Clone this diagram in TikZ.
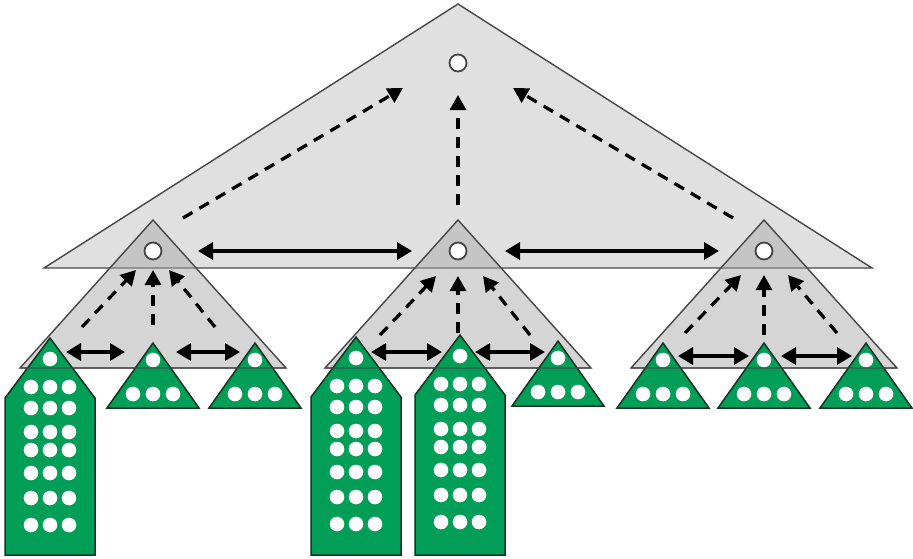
\documentclass[tikz,border=0pt]{standalone}
\usetikzlibrary{arrows.meta}

\definecolor{leafgreen}{RGB}{0,158,86}
\definecolor{leafline}{RGB}{22,52,36}
\definecolor{treegray}{RGB}{224,224,224}
\definecolor{subgray}{RGB}{168,168,168}
\definecolor{treeline}{RGB}{70,70,70}

\tikzset{
  bigtri/.style={fill=treegray, draw=treeline, line width=1.4pt, line join=miter},
  subtri/.style={fill=subgray, fill opacity=0.48, draw=treeline, line width=1.4pt},
  baseline over/.style={draw=treeline, line width=1.4pt, draw opacity=0.55},
  leafshape/.style={fill=leafgreen, draw=leafline, line width=1.5pt, line join=miter},
  keynode/.style={circle, fill=white, draw=treeline, line width=1.8pt, inner sep=0pt, minimum size=17pt},
  uparrow/.style={line width=3.3pt, dash pattern=on 11pt off 8pt,
    -{Triangle[length=15pt,width=16pt]}},
  linkarrow/.style={line width=3.4pt,
    {Triangle[length=15pt,width=17pt]}-{Triangle[length=15pt,width=17pt]}},
}

% small leaf triangle: #1 = centre x, #2 = apex y
\newcommand\smallleaf[2]{%
  \draw[leafshape] (#1,#2) -- (#1+46,#2+65) -- (#1-46,#2+65) -- cycle;
  \fill[white] (#1,#2+17) circle (7.3);
  \foreach \dx in {-20,0,20} {\fill[white] (#1+\dx,#2+51) circle (7.3);}
}
% tall leaf (house shape): #1 = centre x, #2 = apex y
\newcommand\tallleaf[2]{%
  \draw[leafshape] (#1,#2) -- (#1+45,#2+60) -- (#1+45,555) -- (#1-45,555)
    -- (#1-45,#2+60) -- cycle;
  \fill[white] (#1,#2+21) circle (7.3);
  \foreach \dy in {49,70,94,112,135,160,187}
    \foreach \dx in {-19,0,19} {\fill[white] (#1+\dx,#2+\dy) circle (7.3);}
}

\begin{document}
\begin{tikzpicture}[x=1pt,y=-1pt]
\useasboundingbox (0,0) rectangle (913,558);

% top-level tree
\draw[bigtri] (458,4) -- (872,268) -- (44,268) -- cycle;

% second-level trees
\foreach \cx in {153,458,764}
  \draw[subtri] (\cx,220) -- (\cx+133,368) -- (\cx-133,368) -- cycle;

% leaves
\tallleaf{50}{338}
\smallleaf{153}{343}
\smallleaf{255}{343}
\tallleaf{356}{337}
\tallleaf{460}{335}
\smallleaf{558}{341}
\smallleaf{663}{343}
\smallleaf{764}{343}
\smallleaf{866}{343}

% base lines of the second-level trees, seen through the leaves
\foreach \cx in {153,458,764}
  \draw[baseline over] (\cx-133,368) -- (\cx+133,368);

% key nodes
\node[keynode] (root) at (458,63) {};
\node[keynode] (mid1) at (153,251) {};
\node[keynode] (mid2) at (458,251) {};
\node[keynode] (mid3) at (764,251) {};

% arrow end points, top level
\coordinate (rootL) at (403,88);
\coordinate (rootC) at (458,95);
\coordinate (rootR) at (513,88);
\coordinate (m1up) at (183,218);
\coordinate (m2up) at (458,205);
\coordinate (m3up) at (733,218);

\draw[uparrow] (m1up) -- (rootL);
\draw[uparrow] (m2up) -- (rootC);
\draw[uparrow] (m3up) -- (rootR);

% links between second-level trees
\coordinate (m1r) at (198,251);
\coordinate (m2l) at (412,251);
\coordinate (m2r) at (505,251);
\coordinate (m3l) at (719,251);
\draw[linkarrow] (m1r) -- (m2l);
\draw[linkarrow] (m2r) -- (m3l);

% first group
\coordinate (g1a) at (82,327);  \coordinate (g1ta) at (136,270);
\coordinate (g1b) at (153,325); \coordinate (g1tb) at (153,270);
\coordinate (g1c) at (215,327); \coordinate (g1tc) at (169,270);
\draw[uparrow] (g1a) -- (g1ta);
\draw[uparrow] (g1b) -- (g1tb);
\draw[uparrow] (g1c) -- (g1tc);
\coordinate (l1a) at (66,352);  \coordinate (l1b) at (125,352);
\coordinate (l1c) at (176,352); \coordinate (l1d) at (240,352);
\draw[linkarrow] (l1a) -- (l1b);
\draw[linkarrow] (l1c) -- (l1d);

% second group
\coordinate (g2a) at (380,335); \coordinate (g2ta) at (436,276);
\coordinate (g2b) at (458,333); \coordinate (g2tb) at (458,276);
\coordinate (g2c) at (530,335); \coordinate (g2tc) at (483,276);
\draw[uparrow] (g2a) -- (g2ta);
\draw[uparrow] (g2b) -- (g2tb);
\draw[uparrow] (g2c) -- (g2tc);
\coordinate (l2a) at (371,352); \coordinate (l2b) at (442,352);
\coordinate (l2c) at (475,352); \coordinate (l2d) at (545,352);
\draw[linkarrow] (l2a) -- (l2b);
\draw[linkarrow] (l2c) -- (l2d);

% third group
\coordinate (g3a) at (685,333); \coordinate (g3ta) at (741,275);
\coordinate (g3b) at (764,335); \coordinate (g3tb) at (764,275);
\coordinate (g3c) at (837,333); \coordinate (g3tc) at (788,275);
\draw[uparrow] (g3a) -- (g3ta);
\draw[uparrow] (g3b) -- (g3tb);
\draw[uparrow] (g3c) -- (g3tc);
\coordinate (l3a) at (678,356); \coordinate (l3b) at (749,356);
\coordinate (l3c) at (781,356); \coordinate (l3d) at (852,356);
\draw[linkarrow] (l3a) -- (l3b);
\draw[linkarrow] (l3c) -- (l3d);
\end{tikzpicture}
\end{document}
